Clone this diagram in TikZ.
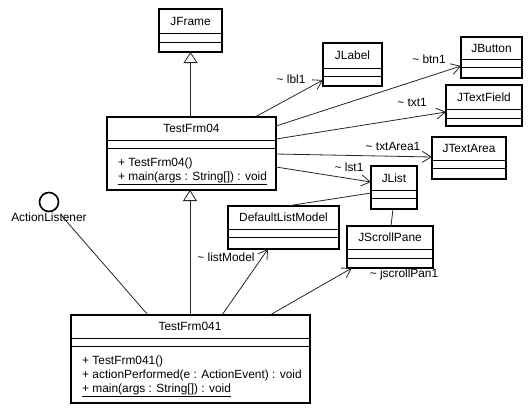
\documentclass[tikz,border=0pt]{standalone}
\usepackage{fontspec}
\setmainfont{Liberation Sans}
\usetikzlibrary{arrows.meta,calc}
\newcommand\umlclass[8]{% id, cx, cy, w, h, d1, d2, name
  \node[clsbox, minimum width=#4pt, minimum height=#5pt] (#1) at (#2,#3) {};
  \draw[cline] ([yshift=-#6pt]#1.north west) -- ([yshift=-#6pt]#1.north east);
  \draw[cline] ([yshift=-#7pt]#1.north west) -- ([yshift=-#7pt]#1.north east);
  \node[txt] (#1-name) at ($(#1.north)+(0,#6/2)$) {#8};
}
\begin{document}
\begin{tikzpicture}[x=1pt,y=-1pt,
  every node/.style={font=\fontsize{11.9}{13.5}\selectfont},
  clsbox/.style={draw, line width=2pt, rectangle, inner sep=0pt, outer sep=0pt, fill=white},
  cline/.style={line width=0.9pt},
  txt/.style={inner sep=0pt, text height=8.5pt, text depth=0pt},
  op/.style={anchor=base west, inner sep=0pt},
  conn/.style={line width=0.8pt, draw=black!85},
  assoc/.style={conn, -{Straight Barb[length=9pt,width=11pt,line width=0.8pt]}},
  gen/.style={conn, -{Triangle[open,length=11pt,width=14pt,fill=white,line width=0.8pt]}}]
\useasboundingbox (0,0) rectangle (532,413);

% classes
\umlclass{jframe}{190.5}{30.5}{63}{43}{24}{33}{JFrame}
\umlclass{tf04}{191.5}{153.5}{169}{73}{23}{31}{TestFrm04}
\umlclass{jlabel}{352.5}{64.5}{59}{43}{25}{33}{JLabel}
\umlclass{jbutton}{491.5}{57.5}{61}{41}{22}{30}{JButton}
\umlclass{jtextfield}{484}{105.5}{76}{41}{24}{33}{JTextField}
\umlclass{jtextarea}{469}{158}{74}{42}{23}{31}{JTextArea}
\umlclass{jlist}{394}{187.5}{46}{43}{24}{32}{JList}
\umlclass{dlm}{283.5}{227.5}{111}{43}{23}{31}{DefaultListModel}
\umlclass{jscroll}{390}{247}{86}{42}{23}{32}{JScrollPane}
\umlclass{tf041}{190}{359}{239}{88}{23}{31}{TestFrm041}

% operations
\node[op] (tf04-op1) at (118,166) {+ TestFrm04()};
\node[op] (tf04-op2) at (118,180) {\underline{+ main(args : String[]) : void}};
\node[op] (tf041-op1) at (82,364) {+ TestFrm041()};
\node[op] (tf041-op2) at (82,378) {+ actionPerformed(e : ActionEvent) : void};
\node[op] (tf041-op3) at (82,392) {\underline{+ main(args : String[]) : void}};

% interface
\node[circle, draw, line width=1.6pt, minimum size=19pt, inner sep=0pt] (al) at (49,202) {};
\node[txt] (al-label) at (49,217) {ActionListener};
\coordinate (alend) at (61,215);

% generalizations
\draw[gen] (jframe.south |- tf04.north) -- (jframe.south);
\draw[gen] (tf041.north) -- (tf041.north |- tf04.south);

% associations
\draw[assoc] ([xshift=-21pt]tf04.north east) -- ([yshift=6pt]jlabel.south west);
\draw[assoc] ([yshift=-9pt]tf04.north east) -- ([yshift=-8.5pt]jbutton.west);
\draw[assoc] ([yshift=-22pt]tf04.north east) -- ([yshift=-6.5pt]jtextfield.west);
\draw[assoc] ([yshift=-37pt]tf04.north east) -- ([yshift=1pt]jtextarea.west);
\draw[assoc] ([yshift=-50pt]tf04.north east) -- ([yshift=5.5pt]jlist.west);
\draw[conn] ([yshift=-5.5pt]jlist.west) -- ([xshift=3.5pt]dlm.north);
\draw[conn] ([xshift=-1pt]jlist.south) -- ([xshift=1pt]jscroll.north);
\draw[assoc] ([xshift=32pt]tf041.north) -- ([xshift=-15.5pt]dlm.south);
\draw[assoc] ([xshift=80pt]tf041.north) -- ([xshift=5pt]jscroll.south west);
\draw[conn] (alend) -- ([xshift=-42pt]tf041.north);

% role labels
\node[txt] (l-lbl1) at (291,79) {\textasciitilde\ lbl1};
\node[txt] (l-btn1) at (429,59) {\textasciitilde\ btn1};
\node[txt] (l-txt1) at (412,102) {\textasciitilde\ txt1};
\node[txt] (l-txtarea1) at (393,146) {\textasciitilde\ txtArea1};
\node[txt] (l-lst1) at (349,167) {\textasciitilde\ lst1};
\node[txt] (l-listmodel) at (226,257) {\textasciitilde\ listModel};
\node[txt] (l-jscroll) at (404,273) {\textasciitilde\ jscrollPan1};
\end{tikzpicture}
\end{document}
